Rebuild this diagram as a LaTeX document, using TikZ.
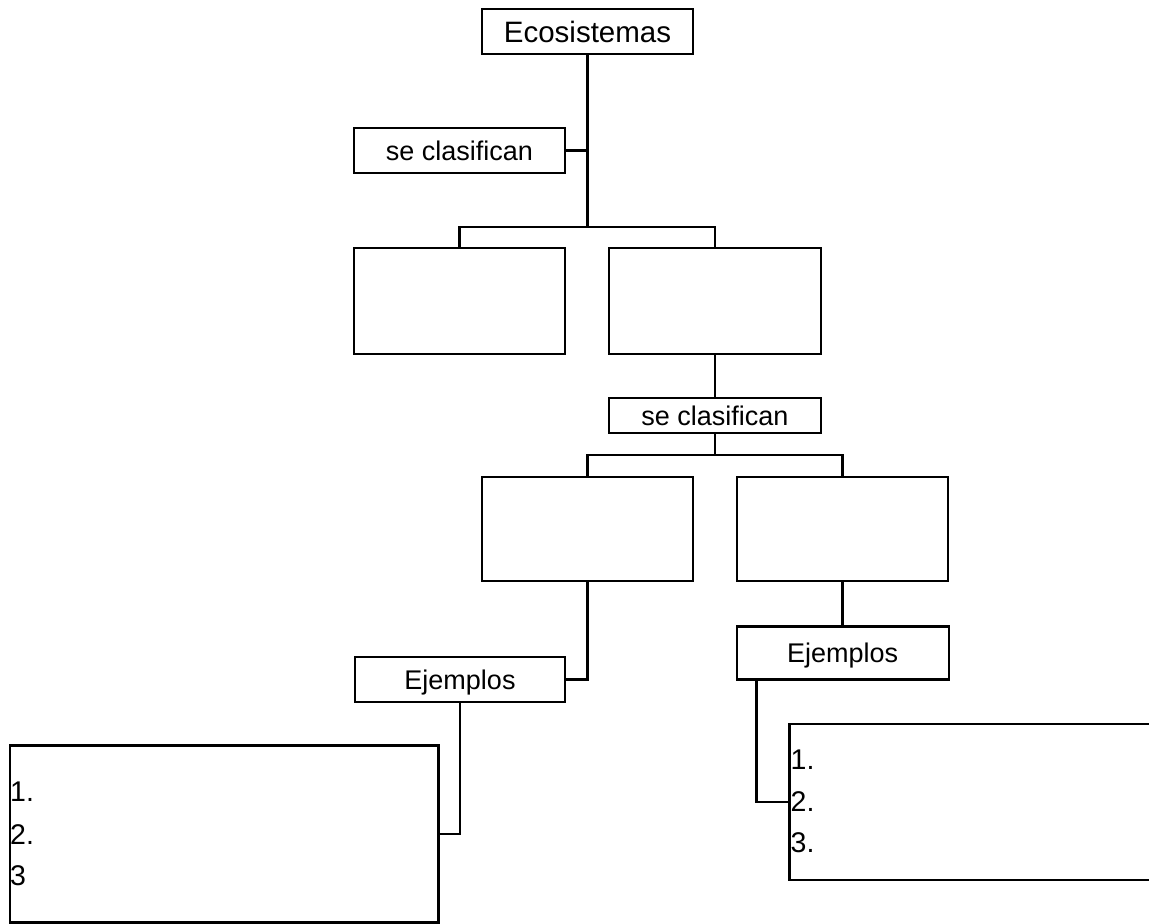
\documentclass[tikz,border=0pt]{standalone}
\usepackage{fontspec}
\setmainfont{Liberation Sans}
\begin{document}
\begin{tikzpicture}[x=1pt,y=-1pt,
  ln/.style={line width=2.4pt, line cap=rect},
  bx/.style={draw, line width=2.4pt, inner sep=0pt, font=\fontsize{27}{32}\selectfont, text height=19.3pt, text depth=0pt},
  num/.style={anchor=west, inner sep=0pt, font=\fontsize{28.5}{33}\selectfont}]
\useasboundingbox (0,0) rectangle (1149,924);
\clip (0,0) rectangle (1149,924);
% nodes
\node[bx, minimum width=211pt, minimum height=45pt, font=\fontsize{29.5}{34}\selectfont, text height=21.1pt] (eco) at (587.5,31.5) {Ecosistemas};
\node[bx, minimum width=211pt, minimum height=45pt] (sc1) at (459.5,150.5) {se clasifican};
\node[bx, minimum width=211pt, minimum height=106pt] (b1) at (459.5,301) {};
\node[bx, minimum width=212pt, minimum height=106pt] (b2) at (715,301) {};
\node[bx, minimum width=212pt, minimum height=35pt] (sc2) at (715,415.5) {se clasifican};
\node[bx, minimum width=211pt, minimum height=104pt] (b3) at (587.5,529) {};
\node[bx, minimum width=211pt, minimum height=104pt] (b4) at (842.5,529) {};
\node[bx, minimum width=210pt, minimum height=45pt] (ej1) at (460,679.5) {Ejemplos};
\node[bx, minimum width=212pt, minimum height=53pt] (ej2) at (842.7,653) {Ejemplos};
\node[bx, minimum width=428.5pt, minimum height=177pt] (list1) at (224.25,834) {};
\node[bx, minimum width=380.7pt, minimum height=156pt] (list2) at (979.65,802) {};
% list texts
\node[num] (l11) at (10,792) {1.};
\node[num] (l12) at (10,834.5) {2.};
\node[num] (l13) at (10,876) {3};
\node[num] (l21) at (790.5,760) {1.};
\node[num] (l22) at (790.5,801.5) {2.};
\node[num] (l23) at (790.5,843) {3.};
% junctions
\coordinate (j1) at (587.5,227);
\coordinate (j2) at (715,455);
% connectors
\draw[ln] (eco.south) -- (j1);
\draw[ln] (sc1.east) -- (sc1.east -| eco.south);
\draw[ln] (b1.north) |- (j1) -| (b2.north);
\draw[ln] (b2.south) -- (sc2.north);
\draw[ln] (sc2.south) -- (j2);
\draw[ln] (b3.north) |- (j2) -| (b4.north);
\draw[ln] (b3.south) |- (ej1.east);
\draw[ln] (b4.south) -- (b4.south |- ej2.north);
\draw[ln] (ej1.south) |- (list1.east);
\draw[ln] ([xshift=21pt]ej2.south west) |- (list2.west);
\end{tikzpicture}
\end{document}
